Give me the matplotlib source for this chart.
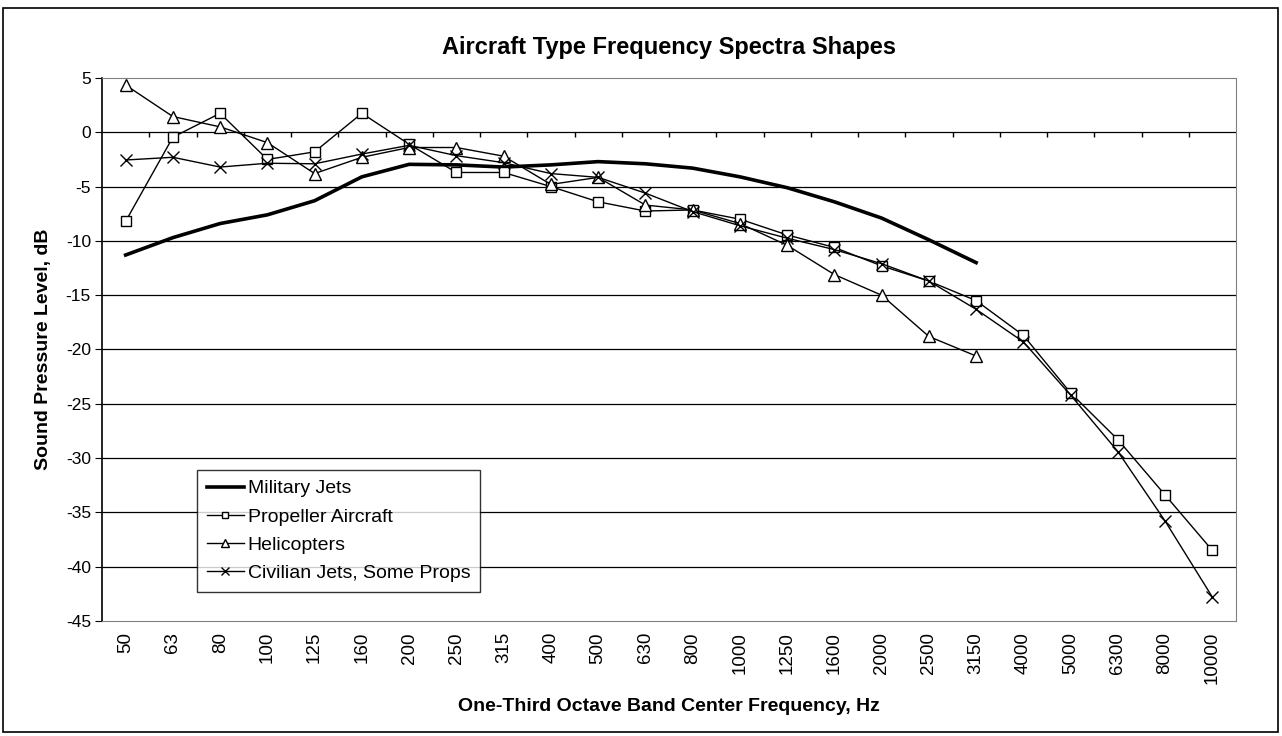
import matplotlib.pyplot as plt
from matplotlib.patches import Rectangle

plt.rcParams['font.family'] = ['Liberation Sans', 'DejaVu Sans']
plt.rcParams['axes.unicode_minus'] = False

freqs = ['50', '63', '80', '100', '125', '160', '200', '250', '315', '400', '500', '630',
         '800', '1000', '1250', '1600', '2000', '2500', '3150', '4000', '5000', '6300',
         '8000', '10000']

military = [-11.3, -9.7, -8.4, -7.6, -6.3, -4.1, -2.95, -3.0, -3.2, -3.0, -2.7, -2.9,
            -3.3, -4.1, -5.1, -6.4, -7.9, -9.9, -12.0]
propeller = [-8.2, -0.45, 1.75, -2.5, -1.8, 1.75, -1.1, -3.7, -3.7, -5.0, -6.4, -7.25,
             -7.15, -8.0, -9.45, -10.6, -12.3, -13.7, -15.5, -18.7, -24.0, -28.3,
             -33.4, -38.5]
helicopters = [4.35, 1.45, 0.5, -0.95, -3.8, -2.3, -1.4, -1.4, -2.2, -4.8, -4.15, -6.7,
               -7.15, -8.4, -10.4, -13.1, -15.0, -18.8, -20.6]
civilian = [-2.55, -2.3, -3.2, -2.85, -2.9, -2.0, -1.2, -2.15, -2.8, -3.8, -4.15, -5.6,
            -7.3, -8.6, -9.75, -10.8, -12.1, -13.7, -16.3, -19.3, -24.2, -29.4,
            -35.8, -42.8]

fig = plt.figure(figsize=(12.82, 7.36), dpi=100)
fig.patches.append(Rectangle((3 / 1282, 1 - 732 / 736), 1275 / 1282, 724 / 736,
                             transform=fig.transFigure, fill=False,
                             edgecolor='black', lw=1.2))
ax = fig.add_axes([102 / 1282, 1 - 621 / 736, 1134 / 1282, 543 / 736])

x = list(range(len(freqs)))

for yv in range(-40, 5, 5):
    ax.axhline(yv, color='black', lw=0.9, zorder=1)
# category axis crossing at 0 with tick marks between categories
ax.vlines([k - 0.5 for k in range(1, len(freqs))], -0.45, 0, color='black', lw=1, zorder=1)

ax.plot(x[:len(military)], military, color='black', lw=2.6, label='Military Jets', zorder=3)
ax.plot(x, propeller, color='black', lw=1, marker='s', ms=7, mfc='white', mec='black',
        mew=1, label='Propeller Aircraft', zorder=4)
ax.plot(x[:len(helicopters)], helicopters, color='black', lw=1, marker='^', ms=8,
        mfc='white', mec='black', mew=1, label='Helicopters', zorder=4)
ax.plot(x, civilian, color='black', lw=1, marker='x', ms=8, mec='black', mew=1,
        label='Civilian Jets, Some Props', zorder=4)

ax.set_xlim(-0.5, len(freqs) - 0.5)
ax.set_ylim(-45, 5)
ax.set_yticks(range(-45, 10, 5))
ax.set_xticks(x)
ax.set_xticklabels(freqs, rotation=90, fontsize=13.5)
ax.tick_params(axis='x', length=0, pad=8)
ax.tick_params(axis='y', length=5, direction='out', labelsize=12.5, pad=3)

for s in ['top', 'right', 'bottom']:
    ax.spines[s].set_color('#808080')
ax.spines['left'].set_color('black')
ax.spines['left'].set_linewidth(1.2)

ax.set_title('Aircraft Type Frequency Spectra Shapes', fontsize=17, fontweight='bold', pad=17)
ax.set_ylabel('Sound Pressure Level, dB', fontsize=14, fontweight='bold', labelpad=10)
ax.set_xlabel('One-Third Octave Band Center Frequency, Hz', fontsize=14, fontweight='bold',
              labelpad=10)

leg = ax.legend(loc='upper left', bbox_to_anchor=(0.084, 0.278), borderaxespad=0,
                fontsize=14, frameon=True, fancybox=False, edgecolor='black',
                handlelength=1.9, borderpad=0.5, labelspacing=0.55, handletextpad=0.2,
                markerscale=0.7)
leg.get_frame().set_linewidth(1)

fig.savefig('out.png', dpi=100)
